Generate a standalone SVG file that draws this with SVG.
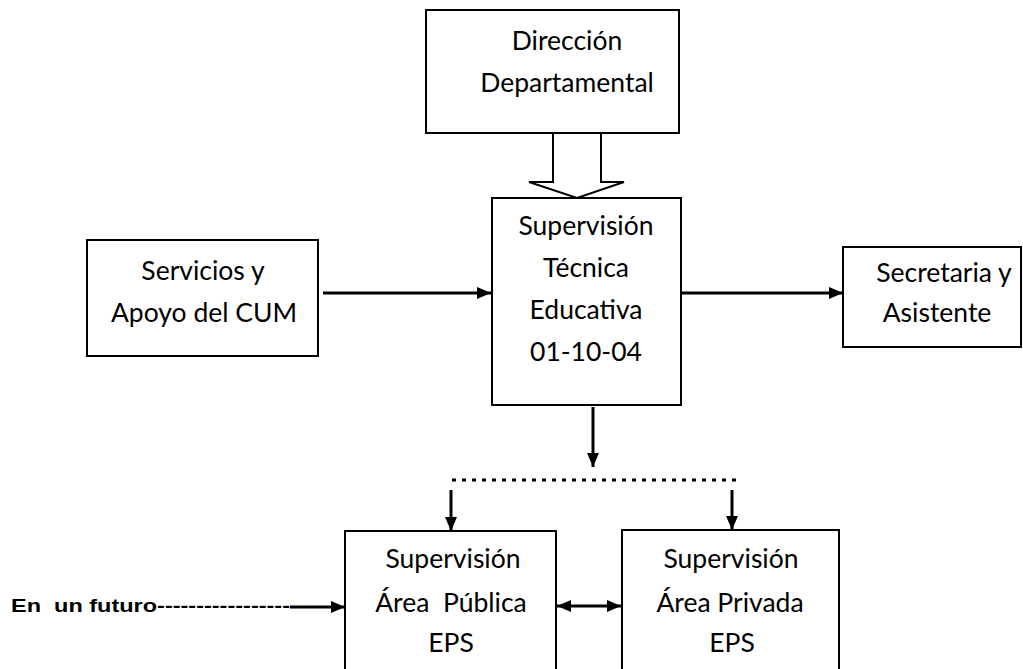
<svg xmlns="http://www.w3.org/2000/svg" width="1023" height="669" viewBox="0 0 1023 669">
<style>
.box{fill:#fff;stroke:#000;stroke-width:2}
.t{font-family:Lato,"Open Sans",sans-serif;font-size:26.5px;fill:#000;text-anchor:middle}
.c{stroke:#000;stroke-width:3;fill:none}
</style>
<defs>
<marker id="ah" markerUnits="userSpaceOnUse" markerWidth="14" markerHeight="14" viewBox="0 0 14 14" refX="14" refY="7" orient="auto-start-reverse">
<path d="M0,1 L14,7 L0,13 Z" fill="#000"/>
</marker>
</defs>
<rect width="1023" height="669" fill="#fff"/>
<g id="connectors">
<polygon points="553,133 601,133 601,182 624,182 577,198 529,182 553,182" fill="#fff" stroke="#000" stroke-width="2"/>
<line class="c" x1="323" y1="293" x2="491" y2="293" marker-end="url(#ah)"/>
<line class="c" x1="681" y1="293" x2="843" y2="293" marker-end="url(#ah)"/>
<line class="c" x1="593" y1="407" x2="593" y2="467" marker-end="url(#ah)"/>
<line x1="452" y1="480" x2="740" y2="480" stroke="#000" stroke-width="3" stroke-dasharray="4 6"/>
<line class="c" x1="451" y1="490" x2="451" y2="531" marker-end="url(#ah)"/>
<line class="c" x1="732" y1="490" x2="732" y2="530" marker-end="url(#ah)"/>
<line class="c" x1="557" y1="606" x2="621" y2="606" marker-start="url(#ah)" marker-end="url(#ah)"/>
<line class="c" x1="290" y1="607" x2="345" y2="607" marker-end="url(#ah)"/>
</g>
<g id="direccion">
<rect class="box" x="426" y="10" width="253" height="123"/>
<text class="t" x="567" y="50">Dirección</text>
<text class="t" x="567" y="92">Departamental</text>
</g>
<g id="tecnica">
<rect class="box" x="492" y="198" width="189" height="207"/>
<text class="t" x="586" y="235">Supervisión</text>
<text class="t" x="586" y="277">Técnica</text>
<text class="t" x="586" y="319">Educativa</text>
<text class="t" x="586" y="361">01-10-04</text>
</g>
<g id="servicios">
<rect class="box" x="87" y="240" width="231" height="116"/>
<text class="t" x="203" y="280">Servicios y</text>
<text class="t" x="204" y="322">Apoyo del CUM</text>
</g>
<g id="secretaria">
<rect class="box" x="843" y="247" width="178" height="100"/>
<text class="t" x="944" y="282">Secretaria y</text>
<text class="t" x="937" y="322">Asistente</text>
</g>
<g id="publica">
<rect class="box" x="345" y="531" width="211" height="170"/>
<text class="t" x="453" y="568">Supervisión</text>
<text class="t" x="451" y="612" xml:space="preserve">Área  Pública</text>
<text class="t" x="451" y="652">EPS</text>
</g>
<g id="privada">
<rect class="box" x="622" y="530" width="217" height="170"/>
<text class="t" x="731" y="568">Supervisión</text>
<text class="t" x="730" y="612">Área Privada</text>
<text class="t" x="732" y="652">EPS</text>
</g>
<g id="futuro">
<text x="11" y="612" font-family="'Liberation Sans',Arial,sans-serif" font-weight="bold" font-size="19" textLength="279" lengthAdjust="spacingAndGlyphs" xml:space="preserve">En  un futuro-----------------</text>
</g>
</svg>
